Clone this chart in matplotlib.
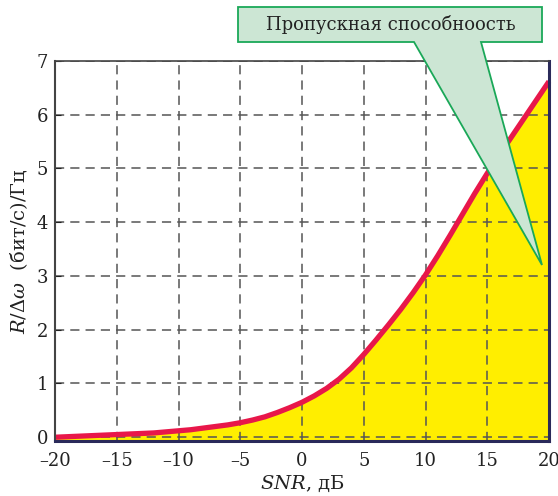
import matplotlib
matplotlib.use("Agg")
import matplotlib.pyplot as plt
from matplotlib.patches import Polygon

plt.rcParams['font.family'] = ['DejaVu Serif']
plt.rcParams['mathtext.fontset'] = 'dejavuserif'

snr_db = list(range(-20, 21))
capacity = [0.0, 0.01, 0.02, 0.03, 0.04, 0.05, 0.06, 0.07, 0.08, 0.10,
            0.12, 0.14, 0.17, 0.20, 0.23, 0.27, 0.32, 0.38, 0.46, 0.55,
            0.65, 0.77, 0.91, 1.08, 1.29, 1.54, 1.81, 2.09, 2.38, 2.69,
            3.02, 3.38, 3.76, 4.15, 4.54, 4.91, 5.26, 5.60, 5.94, 6.28, 6.62]
x_ticks = [-20, -15, -10, -5, 0, 5, 10, 15, 20]
x_labels = ['\u201320', '\u201315', '\u201310', '\u20135', '0', '5', '10', '15', '20']
y_ticks = [0, 1, 2, 3, 4, 5, 6, 7]
annotation = 'Пропускная способноость'

W, H = 558, 496
fig = plt.figure(figsize=(W / 100, H / 100), dpi=100)
ax = fig.add_axes([55 / W, 1 - 441 / H, (549 - 55) / W, (441 - 61) / H])

ymin = -0.07
ax.set_xlim(-20, 20)
ax.set_ylim(ymin, 7)

ax.fill_between(snr_db, capacity, ymin, color='#ffee00', zorder=2)
ax.plot(snr_db, capacity, color='#e8174a', lw=3.8, solid_capstyle='butt',
        solid_joinstyle='round', zorder=4, clip_on=False)

ax.grid(True, color='#555555', linestyle=(0, (6, 4)), linewidth=1.1, zorder=3)
ax.set_axisbelow(False)
for l in ax.get_xgridlines() + ax.get_ygridlines():
    l.set_zorder(3)

ax.set_xticks(x_ticks)
ax.set_xticklabels(x_labels)
ax.set_yticks(y_ticks)
ax.tick_params(axis='both', labelsize=13, colors='#222222', direction='in', length=4)
ax.tick_params(axis='x', length=0, pad=8)
ax.tick_params(axis='y', pad=5)

ax.spines['left'].set_color('#444444')
ax.spines['left'].set_linewidth(1.5)
ax.spines['top'].set_color('#444444')
ax.spines['top'].set_linewidth(1.2)
ax.spines['bottom'].set_color('#2a2a5a')
ax.spines['bottom'].set_linewidth(2.2)
ax.spines['right'].set_color('#2a2a5a')
ax.spines['right'].set_linewidth(2.2)
for s in ax.spines.values():
    s.set_zorder(5)

ax.set_xlabel('$SNR$, дБ', fontsize=14, color='#222222', labelpad=3)
ax.set_ylabel('$R/\\Delta\\omega$  (бит/с)/Гц', fontsize=14, color='#222222', labelpad=5)

pts_px = [(238, 7), (542, 7), (542, 42), (481, 42), (542, 265), (414, 42), (238, 42)]
pts = [(x / W, 1 - y / H) for x, y in pts_px]
poly = Polygon(pts, closed=True, transform=fig.transFigure, facecolor='#cce6d4',
               edgecolor='#1aa858', linewidth=1.3, zorder=10)
fig.patches.append(poly)
fig.text(391 / W, 1 - 24 / H, annotation, fontsize=13, color='#222222',
         ha='center', va='center', zorder=11)

fig.savefig('out.png', dpi=100)
